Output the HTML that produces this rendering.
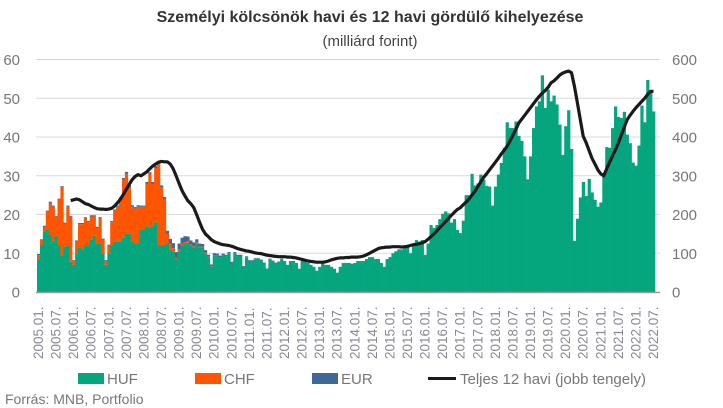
<!DOCTYPE html>
<html><head><meta charset="utf-8"><style>
html,body{margin:0;padding:0;background:#fff;}
svg{display:block;font-family:"Liberation Sans",sans-serif;}
</style></head><body>
<svg id="chart" width="723" height="408" viewBox="0 0 723 408">
<text x="370" y="22" text-anchor="middle" font-size="16" font-weight="bold" fill="#333">Személyi kölcsönök havi és 12 havi gördülő kihelyezése</text>
<text x="370" y="46" text-anchor="middle" font-size="15" fill="#444">(milliárd forint)</text>
<g id="grid"></g><g id="bars"></g><g id="line"></g><g id="axes"></g>
<g>
<rect x="78" y="373" width="26" height="11" fill="#05a57e"/>
<text x="107" y="384" font-size="15" fill="#777">HUF</text>
<rect x="195" y="373" width="26" height="11" fill="#ff5500"/>
<text x="224" y="384" font-size="15" fill="#777">CHF</text>
<rect x="312" y="373" width="26" height="11" fill="#3d6897"/>
<text x="341" y="384" font-size="15" fill="#777">EUR</text>
<line x1="428" y1="378.5" x2="456" y2="378.5" stroke="#1a1a1a" stroke-width="3"/>
<text x="460" y="384" font-size="15" fill="#777">Teljes 12 havi (jobb tengely)</text>
</g>
<text x="5" y="404" font-size="14" fill="#777">Forrás: MNB, Portfolio</text>
</svg>
<script>
const huf = [
8.5,12,15.5,16,14.7,13,14.5,12,9.3,11.7,12,7.8,
7,10,11.5,11,12,12,13.5,14.5,12.5,12.5,10,7,
10,12,13,13,13,14,15,15,13,12.5,12.5,16,
16,17,16.5,17,18,12,12,12,12.5,11,10.5,8.5,
10.5,12,12.5,12.7,12,11.5,12.5,11.5,11.5,10,9,6.5,
9.5,9.5,9,9.5,9.3,10,7.5,10,9.3,9.3,6.5,9,
8,8,8.5,8.5,8.3,7.5,6,8.5,8,7.5,7.8,8.5,
8,7,8,8,7.5,6,8,8,7.5,7,6.5,5.5,
6.5,7.5,7,7,6.5,6,5,6.5,7.5,7.5,7.5,7.3,
7.5,8,8,8,8.5,9,9,8.5,8.5,7.5,6.5,8.5,
9,10,10.5,11,11,11.5,11.5,10,12,13.4,13,13.4,
9.6,12.5,17.3,16.5,17.3,18.8,20.2,20.8,20.3,17.9,18.8,16,
15.2,18.4,25,25,30.5,27.5,28,30.3,29,27.4,27.2,22.3,
27.2,30.3,33.3,37.2,43.8,42.3,42.3,44,40.3,39,35,29.1,
35,42.3,47.9,49.2,55.9,47.5,52.2,49.2,50.7,48.4,43.2,35.4,
42.8,46.9,36.9,13.2,18.9,24.4,28.4,24.8,29.2,25.7,23.8,22,
23.1,30.3,37.4,37.2,42.3,47.9,45.2,44.9,46.5,40.6,38.4,33.4,
32.6,37.8,48.1,43.8,54.7,51.8,46.6];
const chf = [
1,1.4,1.3,4.7,8.3,9,4.9,11.8,17.7,5.9,10,11.6,
1,3,6,6.5,7,6,6,5,4,6.5,3.5,1,
2,6,8,9,11,15,15.5,12,9,9,9.5,6,
6,11,14,11,14,21,15,12,2.5,1.5,0.8,0.3,
0.5,0.5,0.4,0.4,0.3,0.3,0.3,0.2,0.2,0.2,0.1,0.1];
const eur = [
0.3,0.2,0.3,0.3,0.3,0.3,0.2,0.3,0.3,0.3,0.3,0.2,
0.2,0.3,0.3,0.3,0.3,0.3,0.3,0.3,0.3,0.3,0.3,0.2,
0.2,0.3,0.3,0.3,0.4,0.4,0.5,0.5,0.4,0.4,0.4,0.3,
0.3,0.4,0.4,0.4,0.5,0.5,0.5,0.5,0.8,1.2,1.3,1.5,
1.5,1.5,1.5,1.2,1,1,0.8,0.8,0.7,0.6,0.5,0.5,
0.5,0.4,0.4,0.4,0.3,0.3,0.3,0.3,0.3,0.3,0.2,0.2,
0.2,0.2,0.2,0.2,0.1,0.1,0.1,0.1,0.1,0.1,0.1,0.1];
const total12 = [
null,null,null,null,null,null,null,null,null,null,null,236,
238,240,238,233,228,226,222,218,215,214,214,213,
214,216,222,230,240,252,265,278,290,298,303,300,
305,310,318,325,330,335,337,336,336,330,318,300,
280,262,248,236,228,218,200,180,162,150,143,135,
130,127,124,122,121,120,118,115,112,110,108,106,
105,103,101,100,99,97,95,94,93,92,91,91,
91,90,90,89,88,86,84,82,80,79,78,77,
77,77,78,80,83,85,87,88,88,89,89,90,
90,90,91,93,96,100,104,108,112,114,115,116,
116,117,117,117,116,117,118,120,122,123,125,127,
130,136,143,150,158,166,174,182,190,198,206,213,
217,225,232,240,250,260,272,284,296,305,315,325,
335,345,356,366,376,390,405,420,436,446,456,466,
476,486,496,505,513,520,528,540,545,552,560,565,
568,570,566,530,488,445,402,385,365,345,330,315,
305,300,318,335,352,367,385,405,425,445,456,466,
476,484,492,500,510,518,518];
const leftTicks = [0,10,20,30,40,50,60];
const rightTicks = [0,100,200,300,400,500,600];
const startYear = 2005;

const NS="http://www.w3.org/2000/svg";
const X0=37, X1=655, Y0=292, Y60=59.5;
const n = huf.length;
const bw = (X1-X0)/n;
function xPos(i){return X0+i*bw;}
function yL(v){return Y0-(v/60)*(Y0-Y60);}
function yR(v){return Y0-(v/600)*(Y0-Y60);}
function mk(tag,attrs,parent){const e=document.createElementNS(NS,tag);for(const k in attrs)e.setAttribute(k,attrs[k]);parent.appendChild(e);return e;}

const grid=document.getElementById('grid'), axes=document.getElementById('axes');
leftTicks.forEach((t,k)=>{
  const y=yL(t);
  if(t>0){const g=mk('line',{x1:36,x2:660,y1:y,x2:660,y2:y,stroke:'#d9d9d9','stroke-width':1},grid);
  
  }
  const tx=mk('text',{x:20,y:y+5.5,'text-anchor':'end','font-size':15,fill:'#777'},axes);
  tx.textContent=t;
  
  
});
rightTicks.forEach(t=>{
  const y=yR(t);
  const tx=mk('text',{x:672,y:y+5.5,'font-size':15,fill:'#777'},axes);
  tx.textContent=t;
  
  
});
const base=mk('line',{x1:36,x2:660,y1:Y0+0.5,y2:Y0+0.5,stroke:'#999','stroke-width':1.5},axes);



const bars=document.getElementById('bars');
for(let i=0;i<n;i++){
  const h=huf[i], c=chf[i]||0, e=eur[i]||0;
  const x=xPos(i);
  const r1=mk('rect',{x:x,width:bw+0.3,y:yL(h),height:Y0-yL(h),fill:'#05a57e'},bars);
  
  
  if(c>0){const r2=mk('rect',{x:x,width:bw+0.3,y:yL(h+c),height:yL(h)-yL(h+c),fill:'#ff5500'},bars);
  
  }
  if(e>0){const r3=mk('rect',{x:x,width:bw+0.3,y:yL(h+c+e),height:yL(h+c)-yL(h+c+e),fill:'#3d6897'},bars);
  
  }
  if(i%6===0){
    const yr=startYear+Math.floor(i/12), mo=(i%12)+1;
    const lbl=yr+'.'+(mo<10?'0':'')+mo+'.';
    const cx=x+bw/2+4.5;
    const t=mk('text',{x:cx,y:359,'font-size':13.5,fill:'#8a8a98',transform:'rotate(-90 '+cx+' 359)'},axes);
    t.textContent=lbl;
    
    
  }
}
let d='';
total12.forEach((v,i)=>{if(v==null)return;const px=xPos(i)+bw/2, py=yR(v);d+=(d?'L':'M')+px.toFixed(1)+' '+py.toFixed(1);});
const ln=mk('path',{d:d,fill:'none',stroke:'#1a1a1a','stroke-width':3.2,'stroke-linejoin':'round'},document.getElementById('line'));


</script>
</body></html>
